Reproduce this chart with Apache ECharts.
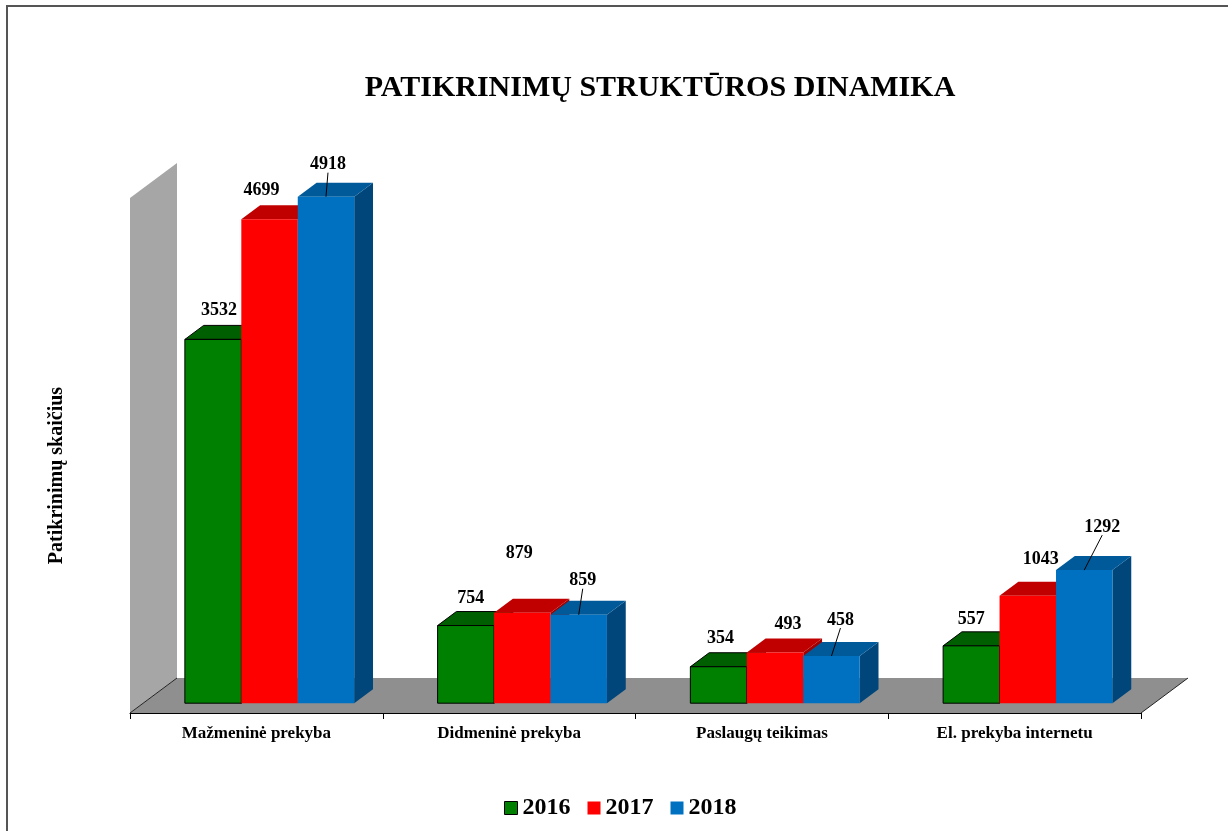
<!DOCTYPE html>
<html>
<head>
<meta charset="utf-8">
<script src="https://cdn.jsdelivr.net/npm/echarts@6/dist/echarts.min.js"></script>
<style>
html,body{margin:0;padding:0;background:#fff;}
#frame{position:absolute;left:6px;top:5px;width:1222px;height:826px;border-left:2px solid #555;border-top:2px solid #555;box-sizing:border-box;}
#chart{position:absolute;left:0;top:0;width:1228px;height:831px;}
</style>
</head>
<body>
<div id="frame"></div>
<div id="chart"></div>
<script>
// ---- data ----
const categories = ['Mažmeninė prekyba', 'Didmeninė prekyba', 'Paslaugų teikimas', 'El. prekyba internetu'];
const years = ['2016', '2017', '2018'];
const values2016 = [3532, 754, 354, 557];
const values2017 = [4699, 879, 493, 1043];
const values2018 = [4918, 859, 458, 1292];
const yMax = 5000;

// ---- layout / style (not data) ----
const FONT = '"Liberation Serif", "Times New Roman", serif';
const DEPTH = [47, -35];          // floor depth offset
const BAR_FRONT = 0.28, BAR_BACK = 0.68; // bar depth position as fraction of floor depth
const GROUP_FRAC = 0.67;
const palette = [
  {front: '#008000', top: '#005f00', side: '#004d00', stroke: '#000'},
  {front: '#ff0000', top: '#c00000', side: '#a00000', stroke: null},
  {front: '#0070c0', top: '#005a9a', side: '#00467a', stroke: null}
];
// label shifts relative to (bar front centre, bar front top), per series / category
const labelShift = [
  [[6, -29], [5, -27], [2, -28], [0, -26]],
  [[-8, -29], [-3, -59], [13, -28], [13, -36]],
  [[2, -32], [4, -34], [9, -36], [18, -43]]
];
const leader = [false, false, true];

function barRender(s) {
  return function (params, api) {
    const ci = api.value(0), v = api.value(1);
    const base = api.coord([ci, 0]);
    const topP = api.coord([ci, v]);
    const band = api.size([1, 0])[0];
    const gw = band * GROUP_FRAC, w = gw / 3;
    const fx = DEPTH[0] * BAR_FRONT, fy = DEPTH[1] * BAR_FRONT;
    const dx = DEPTH[0] * (BAR_BACK - BAR_FRONT), dy = DEPTH[1] * (BAR_BACK - BAR_FRONT);
    const xl = base[0] - gw / 2 + s * w + fx;
    const xr = xl + w;
    const yb = base[1] + fy;
    const yt = topP[1] + fy;
    const c = palette[s];
    const st = c.stroke ? {stroke: c.stroke, lineWidth: 1} : {};
    const children = [
      {type: 'polygon', shape: {points: [[xr, yt], [xr + dx, yt + dy], [xr + dx, yb + dy], [xr, yb]]},
        style: Object.assign({fill: c.side}, st)},
      {type: 'polygon', shape: {points: [[xl, yt], [xr, yt], [xr + dx, yt + dy], [xl + dx, yt + dy]]},
        style: Object.assign({fill: c.top}, st)},
      {type: 'rect', shape: {x: xl, y: yt, width: w, height: yb - yt},
        style: Object.assign({fill: c.front}, st)}
    ];
    const cx = (xl + xr) / 2;
    const sh = labelShift[s][ci];
    const lx = cx + sh[0], ly = yt + sh[1];
    if (leader[s]) {
      children.push({type: 'line', shape: {x1: lx, y1: ly + 8, x2: cx, y2: yt},
        style: {stroke: '#000', lineWidth: 1}});
    }
    children.push({type: 'text', style: {text: String(v), x: lx, y: ly, align: 'center', verticalAlign: 'middle',
      font: 'bold 18px ' + FONT, fill: '#000'}});
    return {type: 'group', children: children};
  };
}

function stageRender(params, api) {
  const cs = params.coordSys;
  const x0 = cs.x, x1 = cs.x + cs.width;
  const yB = api.coord([0, 0])[1];
  const yT = api.coord([0, yMax])[1];
  const dx = DEPTH[0], dy = DEPTH[1];
  return {type: 'group', children: [
    {type: 'polygon', shape: {points: [[x0, yT], [x0 + dx, yT + dy], [x0 + dx, yB + dy], [x0, yB]]},
      style: {fill: '#a6a6a6'}},
    {type: 'polygon', shape: {points: [[x0, yB], [x1, yB], [x1 + dx, yB + dy], [x0 + dx, yB + dy]]},
      style: {fill: '#8f8f8f'}},
    {type: 'line', shape: {x1: x0, y1: yB, x2: x0 + dx, y2: yB + dy}, style: {stroke: '#222', lineWidth: 1}},
    {type: 'line', shape: {x1: x1, y1: yB, x2: x1 + dx, y2: yB + dy}, style: {stroke: '#222', lineWidth: 1}}
  ]};
}

const seriesValues = [values2016, values2017, values2018];
const series = [{
  type: 'custom', name: 'stage', renderItem: stageRender, silent: true,
  data: [[0, 0]], encode: {x: 0, y: 1}, z: 1
}];
seriesValues.forEach(function (vals, s) {
  series.push({
    type: 'custom', name: years[s], renderItem: barRender(s),
    itemStyle: {color: palette[s].front},
    data: vals.map(function (v, i) { return [i, v]; }),
    encode: {x: 0, y: 1}, z: 2 + s
  });
});

const chart = echarts.init(document.getElementById('chart'), null, {renderer: 'canvas'});
chart.setOption({
  animation: false,
  backgroundColor: 'transparent',
  title: {
    text: 'PATIKRINIMŲ STRUKTŪROS DINAMIKA',
    left: 655, top: 68, textAlign: 'center',
    textStyle: {fontFamily: FONT, fontWeight: 'bold', fontSize: 30, color: '#000'}
  },
  legend: {
    data: [
      {name: '2016', itemStyle: {color: palette[0].front, borderColor: '#000', borderWidth: 1}},
      {name: '2017'},
      {name: '2018'}
    ],
    left: 499, top: 791,
    icon: 'rect', itemWidth: 13, itemHeight: 13, itemGap: 17,
    textStyle: {fontFamily: FONT, fontWeight: 'bold', fontSize: 24, color: '#000', padding: [0, 0, 0, 0]}
  },
  grid: {left: 130, right: 87, top: 198, bottom: 118, containLabel: false},
  xAxis: {
    type: 'category', data: categories, boundaryGap: true,
    axisLine: {show: true, lineStyle: {color: '#000', width: 1}},
    axisTick: {show: true, length: 6, lineStyle: {color: '#000'}},
    axisLabel: {fontFamily: FONT, fontWeight: 'bold', fontSize: 17, color: '#000', margin: 12},
    splitLine: {show: false}
  },
  yAxis: {
    type: 'value', min: 0, max: yMax, interval: 1000,
    name: 'Patikrinimų skaičius', nameLocation: 'middle', nameRotate: 90, nameGap: 63,
    nameTextStyle: {fontFamily: FONT, fontWeight: 'bold', fontSize: 20, color: '#000', padding: [0, 40, 0, 0]},
    axisLine: {show: false}, axisTick: {show: false}, axisLabel: {show: false}, splitLine: {show: false}
  },
  series: series
});
</script>
</body>
</html>
